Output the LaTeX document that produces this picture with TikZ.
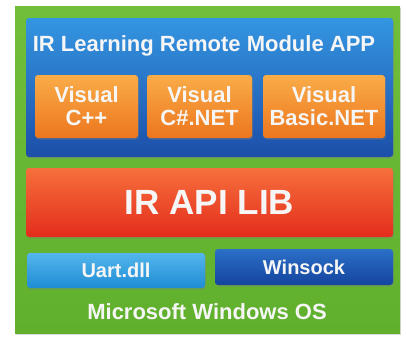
\documentclass[tikz,border=0pt]{standalone}
\usepackage{fontspec}
\setmainfont{Liberation Sans}
\usepackage{tikz}
\usetikzlibrary{shadows}

\definecolor{osgreen}{RGB}{112,190,58}
\definecolor{osgreendark}{RGB}{96,176,46}
\definecolor{appblue}{RGB}{52,150,226}
\definecolor{appbluedark}{RGB}{28,78,168}
\definecolor{langtop}{RGB}{250,172,72}
\definecolor{langbot}{RGB}{236,118,30}
\definecolor{libtop}{RGB}{246,112,60}
\definecolor{libbot}{RGB}{228,44,28}
\definecolor{uarttop}{RGB}{84,182,236}
\definecolor{uartbot}{RGB}{30,140,212}
\definecolor{socktop}{RGB}{44,112,200}
\definecolor{sockbot}{RGB}{20,68,158}
\definecolor{txtwhite}{RGB}{246,246,246}

\begin{document}
\begin{tikzpicture}[x=1pt, y=-1pt,
    layer/.style={rectangle, rounded corners=3pt, inner sep=0pt, text=txtwhite, font=\bfseries,
                  drop shadow={opacity=0.35, shadow xshift=1pt, shadow yshift=-1.5pt}},
    langbox/.style={layer, top color=langtop, bottom color=langbot, align=center,
                    minimum height=63pt, font=\bfseries\fontsize{22}{23}\selectfont}
]
\useasboundingbox (0,0) rectangle (406,338);

% operating system layer
\node[rectangle, inner sep=0pt, top color=osgreen, bottom color=osgreendark,
      minimum width=385pt, minimum height=327pt,
      drop shadow={opacity=0.3, shadow xshift=1pt, shadow yshift=-1.5pt}] (os) at (207.5,169.5) {};
\node[text=txtwhite, font=\bfseries\fontsize{22}{24}\selectfont] (oslabel) at (207,312) {Microsoft Windows OS};

% application layer
\node[layer, top color=appblue, bottom color=appbluedark,
      minimum width=367pt, minimum height=139pt] (app) at (209.5,87.5) {};
\node[text=txtwhite, font=\bfseries\fontsize{22}{24}\selectfont] (applabel) at (204,46) {IR Learning Remote Module APP};

\node[langbox, minimum width=103pt] (vcpp) at (86.5,106.5) {Visual\\C++};
\node[langbox, minimum width=105pt] (vcs) at (199.5,106.5) {Visual\\C\#.NET};
\node[langbox, minimum width=122pt] (vb) at (324,106.5) {Visual\\Basic.NET};

% library layer
\node[layer, top color=libtop, bottom color=libbot, minimum width=367pt, minimum height=69pt,
      font=\bfseries\fontsize{35}{38}\selectfont] (lib) at (209.5,202.5) {IR API LIB};

% drivers
\node[layer, top color=uarttop, bottom color=uartbot, minimum width=178pt, minimum height=35pt,
      font=\bfseries\fontsize{20}{22}\selectfont] (uart) at (116,270.5) {Uart.dll};
\node[layer, top color=socktop, bottom color=sockbot, minimum width=178pt, minimum height=36pt,
      font=\bfseries\fontsize{20}{22}\selectfont] (sock) at (304,267) {Winsock};

\end{tikzpicture}
\end{document}
